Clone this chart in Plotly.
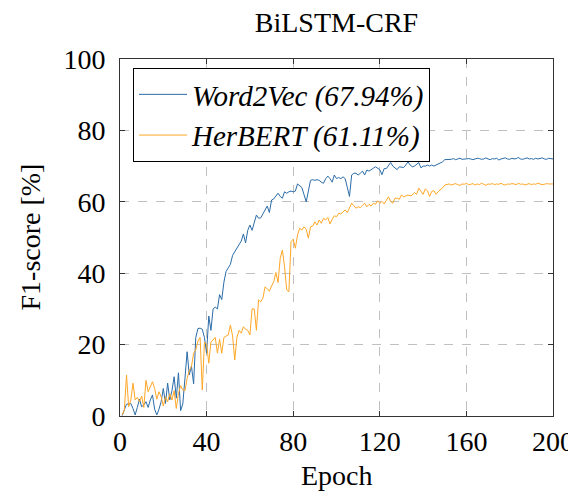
import plotly.graph_objects as go

epochs = list(range(1, 201))

word2vec = [
    0.1, 2.0, 3.3, 3.4, 3.5, 2.1, 0.3, 2.4, 4.7, 2.6,
    3.1, 4.0, 2.4, 4.5, 5.9, 1.9, 0.3, 1.9, 4.0, 7.7,
    3.5, 9.2, 4.5, 7.1, 11.0, 5.0, 12.1, 1.5, 3.4, 10.5,
    18.0, 11.5, 14.0, 9.0, 22.0, 24.5, 24.6, 24.3, 22.0, 17.6,
    28.0, 24.0, 30.0, 30.5, 30.0, 34.0, 32.6, 37.5, 40.5, 41.5,
    42.5, 45.0, 46.0, 47.0, 48.2, 49.0, 51.0, 48.5, 52.0, 53.5,
    52.0, 54.5, 56.3, 55.4, 55.5, 56.6, 57.7, 58.8, 57.0, 60.5,
    60.8, 61.5, 62.4, 61.5, 61.0, 62.8, 62.4, 62.8, 63.0, 62.8,
    63.0, 65.0, 64.5, 64.0, 62.0, 60.0, 63.0, 66.0, 66.2, 66.0,
    66.2, 66.0, 65.5, 65.2, 66.5, 67.2, 66.5, 65.5, 67.5, 66.5,
    66.8, 66.5, 67.0, 66.5, 64.0, 61.5, 67.5, 68.0, 68.0, 67.5,
    68.0, 68.6, 67.5, 68.9, 68.6, 68.9, 69.4, 69.8, 69.5, 69.0,
    67.6, 69.3, 69.3, 70.3, 71.0, 70.0, 69.5, 69.0, 69.8, 69.7,
    69.6, 70.3, 71.2, 70.3, 69.8, 70.0, 70.5, 71.0, 69.5, 70.0,
    70.0, 70.3, 70.0, 70.3, 70.0, 70.3, 70.6, 71.0, 71.2, 71.8,
    71.8, 72.0, 71.9, 72.1, 71.8, 72.0, 72.2, 71.9, 72.0, 71.9,
    72.1, 72.0, 71.8, 72.0, 72.2, 72.1, 71.9, 72.0, 72.3, 72.0,
    71.8, 72.1, 72.0, 72.2, 71.7, 72.0, 72.1, 72.3, 72.0, 71.9,
    72.2, 72.0, 72.1, 72.4, 72.0, 71.9, 72.1, 72.3, 72.0, 72.1,
    71.9, 72.2, 72.0, 72.1, 72.3, 72.0, 71.9, 72.2, 72.1, 72.0,
]

herbert = [
    0.3, 1.7, 11.5, 2.6, 4.5, 9.2, 4.5, 5.2, 4.0, 5.6,
    2.4, 10.0, 6.8, 8.2, 9.6, 7.7, 4.7, 6.8, 5.4, 2.8,
    5.4, 4.0, 6.2, 4.5, 7.1, 2.1, 6.3, 8.5, 7.3, 7.1,
    10.5, 12.7, 13.8, 17.6, 18.5, 21.0, 22.0, 7.3, 20.7, 20.2,
    14.8, 20.7, 21.5, 22.0, 17.6, 21.5, 17.6, 22.0, 22.4, 22.7,
    25.5, 22.4, 15.7, 22.0, 24.0, 23.2, 25.0, 24.3, 24.0, 22.7,
    30.0, 30.0, 24.0, 32.5, 32.0, 33.0, 36.2, 35.7, 35.0, 36.4,
    37.6, 40.2, 37.4, 44.2, 46.5, 41.8, 35.3, 34.8, 48.8, 49.5,
    47.0, 50.7, 52.6, 52.1, 53.0, 52.3, 49.8, 53.0, 53.2, 54.4,
    53.5, 54.9, 54.0, 55.4, 54.9, 55.6, 53.8, 55.1, 56.1, 55.8,
    56.8, 56.6, 57.2, 57.7, 57.0, 58.4, 59.6, 58.9, 58.2, 58.6,
    58.4, 59.0, 59.6, 58.6, 59.3, 58.8, 59.6, 59.3, 60.3, 59.6,
    60.1, 59.4, 60.5, 61.4, 60.1, 59.6, 61.0, 61.0, 60.7, 61.9,
    61.4, 61.7, 61.9, 61.7, 61.9, 62.6, 62.1, 63.8, 62.9, 62.1,
    63.6, 63.1, 61.5, 62.9, 63.1, 62.1, 62.9, 63.3, 63.9, 64.7,
    64.8, 65.0, 64.7, 64.9, 65.1, 64.8, 64.6, 65.0, 64.9, 65.2,
    64.8, 64.9, 65.1, 64.7, 65.0, 64.8, 65.2, 64.9, 64.6, 65.0,
    64.9, 65.1, 64.8, 65.0, 64.9, 65.2, 64.8, 64.7, 65.0, 64.9,
    65.1, 65.0, 64.8, 65.2, 64.9, 65.0, 64.7, 64.9, 65.1, 64.8,
    65.0, 64.9, 65.2, 65.0, 64.8, 64.9, 65.1, 65.0, 64.9, 65.0,
]

series_names = ["Word2Vec (67.94%)", "HerBERT (61.11%)"]
x_ticks = [0, 40, 80, 120, 160, 200]
y_ticks = [0, 20, 40, 60, 80, 100]

FONT = "Liberation Serif, Times New Roman, serif"
FS = 28

# the page body adds an 8px offset; figure is sized to fit the window
OFF = 8
W, H = 576 - OFF, 491 - OFF
L, R, T, B = 120 - OFF, 23, 59 - OFF, 75
PW, PH = W - L - R, H - T - B

fig = go.Figure()
fig.add_trace(go.Scatter(x=epochs, y=word2vec, mode="lines",
                         name="<i>" + series_names[0] + "</i>",
                         line=dict(color="#2a6ca8", width=1)))
fig.add_trace(go.Scatter(x=epochs, y=herbert, mode="lines",
                         name="<i>" + series_names[1] + "</i>",
                         line=dict(color="#ffa726", width=1)))

axis_common = dict(
    showline=True, linecolor="#333333", linewidth=1, mirror="ticks",
    ticks="inside", ticklen=5, tickcolor="#333333", tickwidth=1,
    showgrid=True, gridcolor="#c0c0c0", griddash="dash", gridwidth=1,
    zeroline=False, automargin=False,
    tickfont=dict(family=FONT, size=FS, color="black"),
)

fig.update_xaxes(range=[0, 200], tickvals=x_ticks, ticklabelstandoff=0, **axis_common)
fig.update_yaxes(range=[0, 100], tickvals=y_ticks, ticklabelstandoff=8, **axis_common)

fig.add_annotation(text="Epoch", xref="paper", yref="paper",
                   x=0.5, y=(416 - 475) / PH, xanchor="center", yanchor="middle",
                   showarrow=False, font=dict(family=FONT, size=FS, color="black"))
fig.add_annotation(text="F1-score [%]", xref="paper", yref="paper",
                   x=(30 - 120) / PW, y=0.5, xanchor="center", yanchor="middle",
                   textangle=-90, showarrow=False,
                   font=dict(family=FONT, size=FS, color="black"))

fig.update_layout(
    width=W, height=H,
    margin=dict(l=L, r=R, t=T, b=B, autoexpand=False),
    paper_bgcolor="white", plot_bgcolor="white",
    font=dict(family=FONT, size=FS, color="black"),
    title=dict(text="BiLSTM-CRF", x=0.5, xref="paper", y=1 - (22 - OFF) / H, yref="container",
               yanchor="middle", xanchor="center",
               font=dict(family=FONT, size=FS, color="black")),
    showlegend=True,
    legend=dict(x=(133 - 120) / PW, y=(416 - 68) / PH, xanchor="left", yanchor="top",
                bgcolor="white", bordercolor="black", borderwidth=1,
                font=dict(family=FONT, size=FS + 1, color="black"),
                itemwidth=48, tracegroupgap=0),
)

fig.write_html("out.html")
